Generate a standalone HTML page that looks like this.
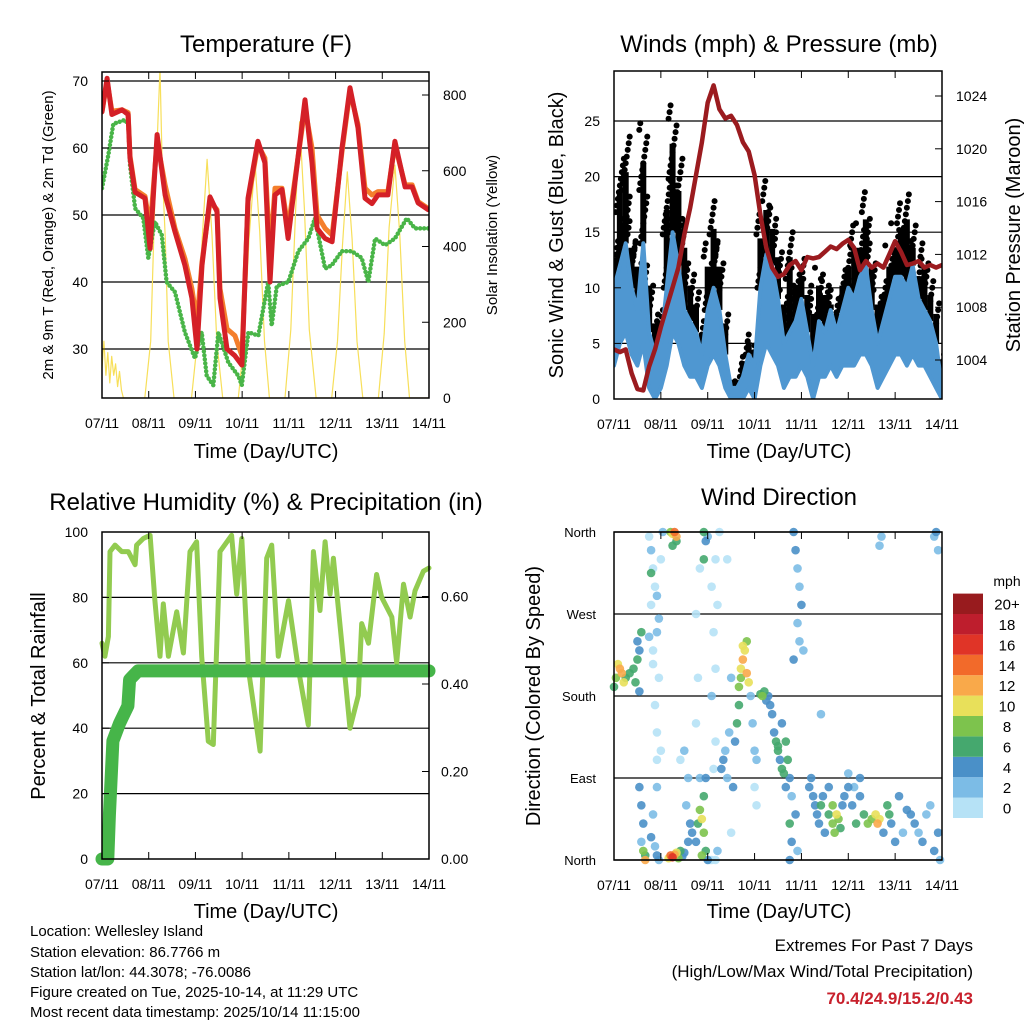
<!DOCTYPE html>
<html><head><meta charset="utf-8"><style>
html,body{margin:0;padding:0;background:#fff;}
svg{display:block;font-family:"Liberation Sans",sans-serif;}
</style></head><body>
<svg id="c" width="1024" height="1024" viewBox="0 0 1024 1024" xmlns="http://www.w3.org/2000/svg">
<g>
<text x="266" y="52" font-size="24" text-anchor="middle">Temperature (F)</text>
<text transform="translate(53,235) rotate(-90)" font-size="15" text-anchor="middle">2m &amp; 9m T (Red, Orange) &amp; 2m Td (Green)</text>
<text transform="translate(497,235) rotate(-90)" font-size="15" text-anchor="middle">Solar Insolation (Yellow)</text>
<text x="266" y="458" font-size="20" text-anchor="middle">Time (Day/UTC)</text>
<g id="p1"></g>
</g>
<g>
<text x="779" y="52" font-size="24" text-anchor="middle">Winds (mph) &amp; Pressure (mb)</text>
<text transform="translate(563,235) rotate(-90)" font-size="20" text-anchor="middle">Sonic Wind &amp; Gust (Blue, Black)</text>
<text transform="translate(1020,235) rotate(-90)" font-size="20" text-anchor="middle">Station Pressure (Maroon)</text>
<text x="779" y="458" font-size="20" text-anchor="middle">Time (Day/UTC)</text>
<g id="p2"></g>
</g>
<g>
<text x="266" y="510" font-size="24" text-anchor="middle">Relative Humidity (%) &amp; Precipitation (in)</text>
<text transform="translate(45,696) rotate(-90)" font-size="20" text-anchor="middle">Percent &amp; Total Rainfall</text>
<text x="266" y="918" font-size="20" text-anchor="middle">Time (Day/UTC)</text>
<g id="p3"></g>
</g>
<g>
<text x="779" y="505" font-size="24" text-anchor="middle">Wind Direction</text>
<text transform="translate(540,696) rotate(-90)" font-size="20" text-anchor="middle">Direction (Colored By Speed)</text>
<text x="779" y="918" font-size="20" text-anchor="middle">Time (Day/UTC)</text>
<g id="p4"></g>
<g id="cb"></g>
<text x="1007" y="586" font-size="14" text-anchor="middle">mph</text>
</g>
<g font-size="15">
<text x="30" y="936">Location: Wellesley Island</text>
<text x="30" y="957">Station elevation: 86.7766 m</text>
<text x="30" y="977">Station lat/lon: 44.3078; -76.0086</text>
<text x="30" y="997">Figure created on Tue, 2025-10-14, at 11:29 UTC</text>
<text x="30" y="1017">Most recent data timestamp: 2025/10/14 11:15:00</text>
</g>
<g text-anchor="end">
<text x="973" y="951" font-size="17">Extremes For Past 7 Days</text>
<text x="973" y="977" font-size="17">(High/Low/Max Wind/Total Precipitation)</text>
<text x="973" y="1004" font-size="17" font-weight="bold" fill="#c8202c">70.4/24.9/15.2/0.43</text>
</g>
</svg>
<script>
const dayLabels=["07/11","08/11","09/11","10/11","11/11","12/11","13/11","14/11"];
const tempHours=[0,2.6,5.1,10.3,13.4,14.4,17,22.1,24.7,28.3,32.4,37.5,42.6,46.2,48.8,51.4,55.5,59.1,60.6,64.2,68.3,71.9,75,80.1,83.7,86.3,88.9,92.5,95.6,99.2,104.3,107.9,110.5,114.6,118.2,123.3,127.4,131.5,135.1,138.7,141.8,146.9,150.5,155.7,159.3,162.4,167.5];
const temp2m=[65.4,70.4,65,65.7,65,58.5,53.4,52.5,45,62,53,47.5,42.5,37.6,30,42.5,52.7,50.5,37.6,30,29,27.6,52.5,61,57.8,40,53,53.8,46.5,55,67.2,57.8,48,46.5,46,60,69,63,52.5,51.7,53,53,61,54.2,54.2,51.8,50.8];
const temp9m=[65.4,70,65.5,65.7,65.3,58.8,53.8,52.8,48,61,54.5,48,43.5,39,34,43,52,50.8,39,33,32,29,52,60.5,58.5,44,54,54,48,55.5,66,60,50,48,47,59.5,68.5,63.5,54,53,53.5,53.5,60.5,54.5,54.5,52,51];
const dewHours=[0,3.3,5.8,11.8,13.5,14.4,17,21.2,23.8,27.2,30.7,33.2,37.5,42.6,47.8,51.2,53.8,57.2,59.8,64.9,70,71.8,75.2,80.3,85.4,87.2,89.8,95.7,100.9,106,109.4,114.6,118,123.2,128.3,133.4,136.8,140.3,145.4,150.5,156.6,160.8,167.7];
const dewPoint=[54,59,63.6,64.2,63.5,57.5,51,49.5,43.6,49,47,40,38.5,32.5,28.6,32.5,26,24.6,32.5,28,26,24.6,32.5,32,40,33.5,39.4,40,44.6,46.5,49.5,42,42.5,44.6,44.6,43.6,40,46.5,45.5,46.5,49.5,48,48];
const solarHours=[0,1,2,3,4,5,6,7,8,9,10,11,12,22,25,27,28.5,29.8,31,32.5,34,37,46,49,51.5,54,56.5,59,62,70,73,75.5,78.6,81,83.5,86,94,97,99.5,101.5,104,106.5,110,118,121,123.5,126,128.5,131,134,142,145,147.5,150.5,153,155.5,158,168];
const solarVals=[80,150,60,120,40,110,60,90,30,70,20,0,0,0,150,500,700,870,600,420,150,0,0,150,420,630,430,150,0,0,150,420,623,440,150,0,0,180,500,729,500,180,0,0,150,400,597,420,150,0,0,170,450,615,430,150,0,0];
const windHi=[10,12,14,10,8,14,6,4,5,10,15,12,8,7,6,4,8,10,8,4,1,1,2,4,3,10,13,12,9,5,6,7,9,6,3,7,6,8,6,8,10,9,11,12,8,5,7,9,11,11,10,12,9,8,7,5,1];
const windLo=[3,5,6,4,3,5,1,0,1,3,6,5,3,2,2,1,3,4,3,1,0,0,0,1,0,3,5,4,3,1,2,2,3,2,0,2,2,3,2,3,3,3,4,4,3,1,2,3,4,4,3,4,3,3,2,1,0];
const gust=[15,22,24,16,14,25,12,8,8,20,27,22,16,12,10,7,14,18,14,8,2,2,4,6,5,17,20,18,15,10,15,12,13,11,9,12,11,10,9,12,14,16,16,19,14,10,11,14,16,18,19,16,13,14,11,9,4];
const pressure=[1004.8,1004.6,1004.8,1003,1001.8,1001.7,1003.5,1004.8,1006.5,1008,1009.5,1011,1013.5,1015.5,1018,1020.5,1023.5,1024.8,1023,1022.3,1022.5,1021.8,1020.5,1019.8,1018,1015,1012.5,1011,1010.3,1010.5,1011.2,1011.5,1010.8,1011.8,1011.7,1011.8,1012.2,1012.6,1012.4,1012.8,1013.1,1012.5,1010.8,1011.5,1011,1011.3,1011,1012,1013,1012.2,1011.2,1011.3,1011.5,1011,1011.2,1011,1011.2];
const rhHours=[0,1.5,3.3,4.1,6.7,10.1,13.5,17,17.8,21.2,24.7,27.2,29.8,31.5,34.1,38.4,41.8,45.2,48.6,51.2,54.6,57.2,60.6,66.6,69.2,71.8,75.2,81.2,84.6,87.2,90.6,95.8,100.9,106,108.6,112,114.6,117.2,118.9,123.2,127.4,131.7,133.4,136.9,141.1,143.7,148.9,151.4,154.9,158.3,160.8,165.1,168];
const rhVals=[66,62,68,94,96,94,94,90,96,98,99,79,62,78,62,75.6,63,94,97,62,36,35,94,99,81,98,58,33,92,96,62,79,58,41,94,76,97,81,92,66,40,50,72,66,87,80,74,60,84,74,82,88,89];
const rainHours=[0,3,3.8,5.6,9,13.3,14.2,18.5,168];
const rainVals=[0,0,0.1,0.27,0.31,0.35,0.41,0.43,0.43];
const dirHours=[0,1,2,3,4,5,6,8,10,11,12,13,12,14,13,18,19,20,21,19,22,20,23,21,22,24,25,24,22,23,18,20,22,19,13,14,15,14,16,15,16,19,20,21,22,23,22,29,30,31,32,30,32,28,29,30,31,32,33,34,35,36,38,39,40,37,38,36,34,42,43,44,45,46,47,45,46,47,44,42,43,42,44,46,47,48,46,48,49,50,52,51,52,50,52,51,53,50,52,54,53,55,56,57,58,59,60,58,62,63,64,64,65,66,67,68,69,68,66,65,61,60,70,71,72,73,72,73,75,76,77,78,79,80,81,82,83,84,85,86,87,88,86,88,89,90,84,92,93,94,95,96,94,95,97,92,90,91,90,93,91,94,100,101,102,103,104,105,106,107,108,110,112,113,114,112,110,115,116,117,118,120,122,124,126,123,128,130,132,134,135,136,138,140,141,142,144,146,148,150,152,154,156,158,160,162,164,166,167,165,164,166,137,136,126,120,106];
const dirDegs=[190,200,215,210,205,195,200,205,210,195,220,230,240,250,185,355,340,320,300,280,250,230,200,170,140,120,360,330,290,265,245,215,110,315,80,60,40,20,5,10,0,25,50,15,5,0,80,360,358,360,355,345,350,2,5,3,6,8,2,10,4,8,20,40,30,60,90,120,110,20,40,55,45,30,10,5,70,90,90,150,200,270,320,330,350,355,360,0,0,0,0,100,130,180,210,250,280,300,330,360,10,100,110,120,90,140,200,330,130,150,170,190,210,220,230,205,195,240,235,200,80,30,180,150,120,110,80,60,182,180,185,175,180,170,160,140,130,120,110,100,95,80,150,130,110,90,125,360,340,320,300,280,260,240,230,220,0,20,40,50,70,10,80,90,70,60,50,40,60,70,30,50,40,30,50,60,80,45,35,60,70,80,60,40,70,80,50,40,45,50,40,45,30,60,50,40,20,70,30,55,50,40,30,20,50,60,10,30,0,360,355,340,355,345,90,95,160];
const dirSpeeds=[6,8,10,12,13,10,6,6,7,6,7,4,5,7,4,1,2,1,1,1,2,1,1,1,1,1,2,1,2,2,2,1,1,6,4,4,4,3,6,8,12,4,2,3,4,3,2,8,10,14,12,6,6,10,14,16,12,10,8,6,4,4,4,4,4,2,2,2,1,4,6,8,10,8,6,8,6,4,2,1,1,1,1,6,4,3,6,4,1,1,1,1,1,2,1,1,1,1,1,1,2,4,4,3,2,2,2,1,4,6,6,8,10,12,10,12,10,8,10,8,4,1,2,2,3,2,1,1,6,8,6,4,4,4,4,4,6,6,4,6,6,4,4,6,6,4,6,4,4,2,2,4,2,2,2,4,4,4,6,4,2,2,4,4,4,4,4,4,6,4,4,6,8,8,10,8,4,8,6,4,4,4,4,6,4,2,6,8,8,10,12,10,4,6,6,4,4,4,2,4,4,4,2,4,2,2,4,4,2,4,3,2,2,2,4,2,2];
const speedColors=["#b6e2f6","#7cbce6","#4a90c8","#45a86e","#7dc34d","#e8e05a","#f9a94a","#f26a2a","#e03427","#be1e2d","#981b1e"];
const speedLabels=["0","2","4","6","8","10","12","14","16","18","20+"];

const NS="http://www.w3.org/2000/svg";
function mk(parent,tag,attrs){const e=document.createElementNS(NS,tag);for(const k in attrs)e.setAttribute(k,attrs[k]);parent.appendChild(e);return e;}
function txt(parent,x,y,s,size,anchor){const t=mk(parent,'text',{x:x,y:y,'font-size':size,'text-anchor':anchor});t.textContent=s;return t;}

function frame(g,L,R,T,B){
  for(let d=0;d<8;d++){const x=L+(R-L)*d/7;
    const tk=mk(g,'line',{x1:x,x2:x,y1:B-7,y2:B,stroke:'#000','stroke-width':1});
    
    
    mk(g,'line',{x1:x,x2:x,y1:T,y2:T+7,stroke:'#000','stroke-width':1});
    const t=txt(g,x,B+30,dayLabels[d],14,'middle');
    
    
  }
}
function border(g,L,R,T,B){const r=mk(g,'rect',{x:L,y:T,width:R-L,height:B-T,fill:'none',stroke:'#000','stroke-width':1.5});
  
  }
function grid(g,L,R,y){const l=mk(g,'line',{x1:L,x2:R,y1:y,y2:y,stroke:'#000','stroke-width':1.2});
  
  }
function poly(g,pts,attrs){return mk(g,'polyline',Object.assign({points:pts.map(p=>p[0].toFixed(1)+','+p[1].toFixed(1)).join(' '),fill:'none','stroke-linejoin':'round','stroke-linecap':'round'},attrs));}

/* ---------- Panel 1: temperature ---------- */
(function(){
 const g=document.getElementById('p1');const L=102,R=429,T=72,B=398;
 const xs=h=>L+(R-L)*h/168, yT=v=>81+(70-v)*6.7, yS=v=>398-v*303/800;
 mk(mk(g,'clipPath',{id:'cp1'}),'rect',{x:L,y:T,width:R-L,height:B-T});
 [70,60,50,40,30].forEach(v=>grid(g,L,R,yT(v)));
 const cg=mk(g,'g',{'clip-path':'url(#cp1)'});
 const s=poly(cg,solarHours.map((h,i)=>[xs(h),yS(solarVals[i])]),{stroke:'#f7df5a','stroke-width':1.2});
 
 
 const d=poly(cg,dewHours.map((h,i)=>[xs(h),yT(dewPoint[i])]),{stroke:'#49b548','stroke-width':4.5,'stroke-dasharray':'0 4'});
 
 
 const o=poly(cg,tempHours.map((h,i)=>[xs(h),yT(temp9m[i])]),{stroke:'#f47f2c','stroke-width':5});
 
 
 const r=poly(cg,tempHours.map((h,i)=>[xs(h),yT(temp2m[i])]),{stroke:'#d42027','stroke-width':5});
 
 
 border(g,L,R,T,B);frame(g,L,R,T,B);
 [70,60,50,40,30].forEach(v=>{const t=txt(g,L-14,yT(v)+5,String(v),14,'end');
   
   
   mk(g,'line',{x1:L,x2:L+7,y1:yT(v),y2:yT(v),stroke:'#000'});});
 [0,200,400,600,800].forEach(v=>{const t=txt(g,R+14,yS(v)+5,String(v),14,'start');
   
   
   mk(g,'line',{x1:R-7,x2:R,y1:yS(v),y2:yS(v),stroke:'#000'});});
})();

/* ---------- Panel 2: winds & pressure ---------- */
(function(){
 const g=document.getElementById('p2');const L=614,R=942,T=71,B=399;
 const xs=i=>L+(R-L)*i/(windHi.length-1), yW=v=>399-v*11.12, yP=p=>360-(p-1004)*13.2;
 mk(mk(g,'clipPath',{id:'cp2'}),'rect',{x:L,y:T,width:R-L,height:B-T});
 [5,10,15,20,25].forEach(v=>grid(g,L,R,yW(v)));
 const cg=mk(g,'g',{'clip-path':'url(#cp2)'});
 for(let i=0;i<gust.length;i++){
   const x=xs(i);
   const ln=mk(cg,'line',{x1:x,x2:x,y1:yW(windHi[i]),y2:yW(gust[i]*0.85),stroke:'#000','stroke-width':6});
   
   
   let k=0;
   for(let v=windHi[i];v<=gust[i];v+=0.6){
     k++;
     const c=mk(cg,'circle',{cx:x+((k*37)%9-4),cy:yW(v),r:3,fill:'#000'});
     
     
   }
 }
 const top=windHi.map((v,i)=>[xs(i),yW(v)]), bot=windLo.map((v,i)=>[xs(i),yW(v)]).reverse();
 const band=mk(cg,'polygon',{points:top.concat(bot).map(p=>p[0].toFixed(1)+','+p[1].toFixed(1)).join(' '),fill:'#4f97d1',stroke:'#4f97d1','stroke-width':4,'stroke-linejoin':'round'});
 
 
 const p=poly(cg,pressure.map((v,i)=>[xs(i),yP(v)]),{stroke:'#9b1b1f','stroke-width':4.5});
 
 
 border(g,L,R,T,B);frame(g,L,R,T,B);
 [0,5,10,15,20,25].forEach(v=>{const t=txt(g,L-14,yW(v)+5,String(v),14,'end');
   
   
   mk(g,'line',{x1:L,x2:L+7,y1:yW(v),y2:yW(v),stroke:'#000'});});
 [1004,1008,1012,1016,1020,1024].forEach(v=>{const t=txt(g,R+14,yP(v)+5,String(v),14,'start');
   
   
   mk(g,'line',{x1:R-7,x2:R,y1:yP(v),y2:yP(v),stroke:'#000'});});
})();

/* ---------- Panel 3: humidity ---------- */
(function(){
 const g=document.getElementById('p3');const L=102,R=429,T=532,B=859;
 const xs=h=>L+(R-L)*h/168, yR=v=>859-v*3.27, yP=p=>859-p*437.5;
 [20,40,60,80].forEach(v=>grid(g,L,R,yR(v)));
 const rh=poly(g,rhHours.map((h,i)=>[xs(h),yR(rhVals[i])]),{stroke:'#92cb50','stroke-width':5});
 
 
 const rn=poly(g,rainHours.map((h,i)=>[xs(h),yP(rainVals[i])]),{stroke:'#46b549','stroke-width':13});
 
 
 border(g,L,R,T,B);frame(g,L,R,T,B);
 [0,20,40,60,80,100].forEach(v=>{const t=txt(g,L-14,yR(v)+5,String(v),14,'end');
   
   
   mk(g,'line',{x1:L,x2:L+7,y1:yR(v),y2:yR(v),stroke:'#000'});});
 [0,0.2,0.4,0.6].forEach(v=>{const t=txt(g,R+12,yP(v)+5,v.toFixed(2),14,'start');
   
   
   mk(g,'line',{x1:R-7,x2:R,y1:yP(v),y2:yP(v),stroke:'#000'});});
})();

/* ---------- Panel 4: wind direction ---------- */
(function(){
 const g=document.getElementById('p4');const L=614,R=942,T=532,B=860;
 const xs=h=>L+(R-L)*h/168, yD=d=>860-d*(328/360);
 [90,180,270].forEach(v=>grid(g,L,R,yD(v)));
 const order=dirHours.map((h,i)=>i).sort((a,b)=>dirSpeeds[a]-dirSpeeds[b]);
 order.forEach(i=>{
   const ci=Math.min(10,Math.floor(dirSpeeds[i]/2));
   const c=mk(g,'circle',{cx:xs(dirHours[i]),cy:yD(dirDegs[i]),r:4.3,fill:speedColors[ci],'fill-opacity':0.9});
   
   
 });
 grid(g,L,R,T);grid(g,L,R,B);
 border(g,L,R,T,B);frame(g,L,R,T,B);
 [["North",0],["East",90],["South",180],["West",270],["North",360]].forEach(a=>{
   const t=txt(g,L-18,yD(a[1])+5,a[0],13,'end');
   
   
   mk(g,'line',{x1:L,x2:L+7,y1:yD(a[1]),y2:yD(a[1]),stroke:'#000'});});
 const cb=document.getElementById('cb');
 speedColors.forEach((col,k)=>{
   const y=818-(k+1)*20.4;
   const r=mk(cb,'rect',{x:953,y:y,width:30,height:20.4,fill:col});
   
   
   const t=txt(cb,1007,y+16,speedLabels[k],15,'middle');
   
   
 });
})();
</script>
</body></html>
